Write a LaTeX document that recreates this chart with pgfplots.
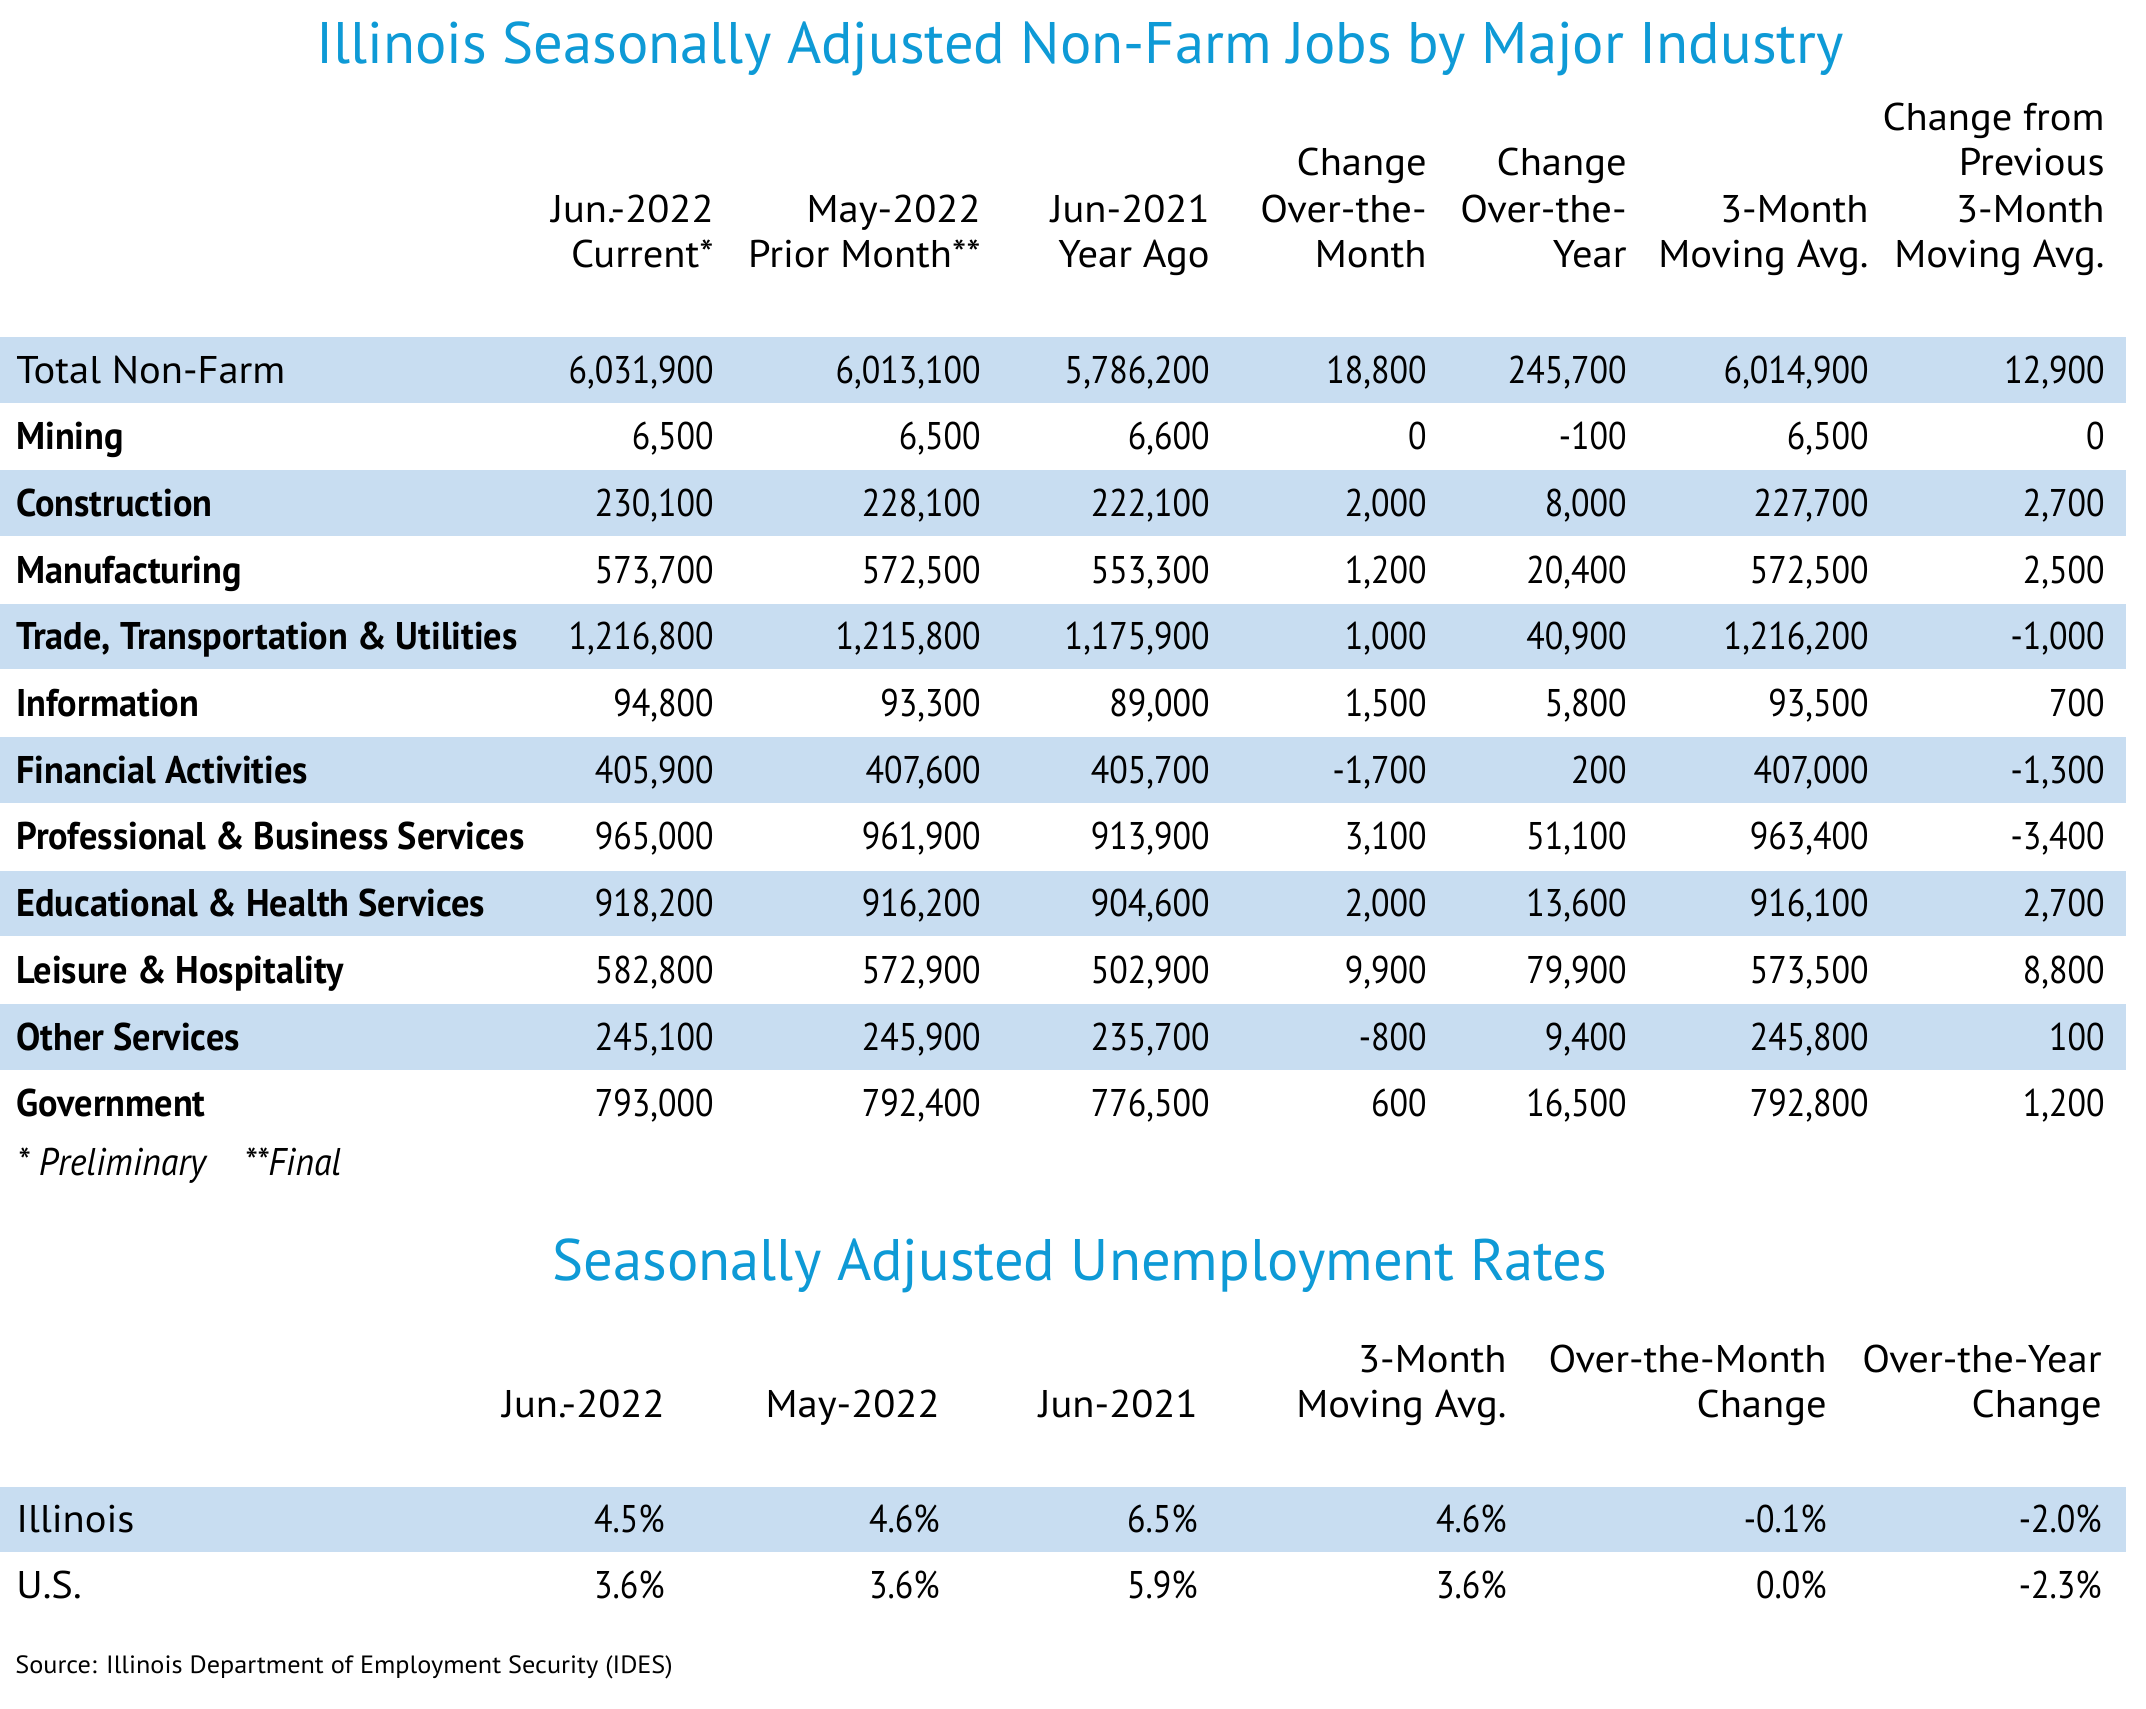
\documentclass[border=0pt]{standalone}
\usepackage{fontspec}
\setmainfont{PT Sans}[FakeStretch=1.05]
\newfontfamily\numfont{PT Sans}[FakeStretch=0.88]
\newfontfamily\labfont{PT Sans}[FakeStretch=0.94]
\newfontfamily\titlefam{PT Sans}[FakeStretch=1.0]
\newfontfamily\footfam{PT Sans}[FakeStretch=0.93]
\usepackage{pgfplots}
\usepackage{pgfplotstable}
\pgfplotsset{compat=1.18}
\definecolor{titleblue}{RGB}{14,154,214}
\definecolor{stripe}{RGB}{200,221,241}
\newcommand{\datafont}{\fontsize{19.3}{23}\selectfont}
\newcommand{\numsize}{\numfont\fontsize{19.3}{23}\selectfont}
\newcommand{\titlefont}{\titlefam\fontsize{29.3}{35}\selectfont}

\pgfplotstableread[col sep=semicolon]{
y;name;c1;c2;c3;c4;c5;c6;c7
383;Total Non-Farm;6,031,900;6,013,100;5,786,200;18,800;245,700;6,014,900;12,900
449.7;Mining;6,500;6,500;6,600;0;-100;6,500;0
516.4;Construction;230,100;228,100;222,100;2,000;8,000;227,700;2,700
583.1;Manufacturing;573,700;572,500;553,300;1,200;20,400;572,500;2,500
649.8;Trade, Transportation \& Utilities;1,216,800;1,215,800;1,175,900;1,000;40,900;1,216,200;-1,000
716.5;Information;94,800;93,300;89,000;1,500;5,800;93,500;700
783.2;Financial Activities;405,900;407,600;405,700;-1,700;200;407,000;-1,300
849.9;Professional \& Business Services;965,000;961,900;913,900;3,100;51,100;963,400;-3,400
916.6;Educational \& Health Services;918,200;916,200;904,600;2,000;13,600;916,100;2,700
983.3;Leisure \& Hospitality;582,800;572,900;502,900;9,900;79,900;573,500;8,800
1050;Other Services;245,100;245,900;235,700;-800;9,400;245,800;100
1116.7;Government;793,000;792,400;776,500;600;16,500;792,800;1,200
}\jobs

\pgfplotstableread[col sep=semicolon]{
y;name
449.7;Mining
516.4;Construction
583.1;Manufacturing
649.8;Trade, Transportation \& Utilities
716.5;Information
783.2;Financial Activities
849.9;Professional \& Business Services
916.6;Educational \& Health Services
983.3;Leisure \& Hospitality
1050;Other Services
1116.7;Government
}\boldlabels

\pgfplotstableread[col sep=semicolon]{
y;name
383;Total Non-Farm
}\totallabel

\pgfplotstableread[col sep=semicolon]{
y;name;c1;c2;c3;c4;c5;c6
1532;Illinois;4.5\%;4.6\%;6.5\%;4.6\%;-0.1\%;-2.0\%
1598;U.S.;3.6\%;3.6\%;5.9\%;3.6\%;0.0\%;-2.3\%
}\rates

\pgfplotsset{
  txtright/.style={draw=none, nodes near coords, point meta=explicit symbolic,
    every node near coord/.append style={anchor=base east, inner sep=0pt, text=black, font=\numsize}},
  txtleft/.style={draw=none, nodes near coords, point meta=explicit symbolic,
    every node near coord/.append style={anchor=base west, inner sep=0pt, text=black, font=#1}},
}

\begin{document}
\begin{tikzpicture}
\begin{axis}[
  scale only axis, width=1073pt, height=854pt,
  xmin=0, xmax=2146, ymin=0, ymax=1708, y dir=reverse,
  hide axis, clip=false,
]
\fill[white] (axis cs:0,0) rectangle (axis cs:2146,1708);
% stripes
\foreach \b in {383,516.4,649.8,783.2,916.6,1050}{
  \edef\tmp{\noexpand\fill[stripe] (axis cs:0,\b-46) rectangle (axis cs:2126,\b+19.5);}\tmp
}
\fill[stripe] (axis cs:0,1487) rectangle (axis cs:2126,1552);

% titles
\node[anchor=base, inner sep=0pt, text=titleblue, font=\titlefont] at (axis cs:1080,63) {Illinois Seasonally Adjusted Non-Farm Jobs by Major Industry};
\node[anchor=base, inner sep=0pt, text=titleblue, font=\titlefont] at (axis cs:1080,1280) {Seasonally Adjusted Unemployment Rates};

% table 1 headers
\begin{scope}[every node/.style={anchor=base east, inner sep=0pt, font=\datafont}]
\node at (axis cs:714,222) {Jun.-2022};
\node at (axis cs:714,267) {Current*};
\node at (axis cs:981,222) {May-2022};
\node at (axis cs:981,267) {Prior Month**};
\node at (axis cs:1210,222) {Jun-2021};
\node at (axis cs:1210,267) {Year Ago};
\node at (axis cs:1427,175) {Change};
\node at (axis cs:1427,222) {Over-the-};
\node at (axis cs:1427,267) {Month};
\node at (axis cs:1627,175) {Change};
\node at (axis cs:1627,222) {Over-the-};
\node at (axis cs:1627,267) {Year};
\node at (axis cs:1869,222) {3-Month};
\node at (axis cs:1869,267) {Moving Avg.};
\node at (axis cs:2105,130) {Change from};
\node at (axis cs:2105,175) {Previous};
\node at (axis cs:2105,222) {3-Month};
\node at (axis cs:2105,267) {Moving Avg.};
% table 2 headers
\node at (axis cs:665,1417) {Jun.-2022};
\node at (axis cs:940,1417) {May-2022};
\node at (axis cs:1198,1417) {Jun-2021};
\node at (axis cs:1507,1372) {3-Month};
\node at (axis cs:1507,1417) {Moving Avg.};
\node at (axis cs:1827,1372) {Over-the-Month};
\node at (axis cs:1827,1417) {Change};
\node at (axis cs:2102,1372) {Over-the-Year};
\node at (axis cs:2102,1417) {Change};
\end{scope}

% table 1 data
\addplot[txtright] table[x expr=714, y=y, meta=c1] {\jobs};
\addplot[txtright] table[x expr=981, y=y, meta=c2] {\jobs};
\addplot[txtright] table[x expr=1210, y=y, meta=c3] {\jobs};
\addplot[txtright] table[x expr=1427, y=y, meta=c4] {\jobs};
\addplot[txtright] table[x expr=1627, y=y, meta=c5] {\jobs};
\addplot[txtright] table[x expr=1869, y=y, meta=c6] {\jobs};
\addplot[txtright] table[x expr=2105, y=y, meta=c7] {\jobs};
\addplot[txtleft={\labfont\bfseries\fontsize{19.3}{23}\selectfont}] table[x expr=16, y=y, meta=name] {\boldlabels};
\addplot[txtleft={\datafont}] table[x expr=16, y=y, meta=name] {\totallabel};

% table 2 data
\addplot[txtright] table[x expr=665, y=y, meta=c1] {\rates};
\addplot[txtright] table[x expr=940, y=y, meta=c2] {\rates};
\addplot[txtright] table[x expr=1198, y=y, meta=c3] {\rates};
\addplot[txtright] table[x expr=1507, y=y, meta=c4] {\rates};
\addplot[txtright] table[x expr=1827, y=y, meta=c5] {\rates};
\addplot[txtright] table[x expr=2102, y=y, meta=c6] {\rates};
\addplot[txtleft={\datafont}] table[x expr=16, y=y, meta=name] {\rates};

% footnotes
\node[anchor=base west, inner sep=0pt, font=\footfam\itshape\fontsize{19.3}{23}\selectfont] at (axis cs:17,1175) {* Preliminary};
\node[anchor=base west, inner sep=0pt, font=\footfam\itshape\fontsize{19.3}{23}\selectfont] at (axis cs:244,1175) {**Final};
\node[anchor=base west, inner sep=0pt, font=\fontsize{12.5}{15}\selectfont] at (axis cs:15,1673) {Source: Illinois Department of Employment Security (IDES)};
\end{axis}
\end{tikzpicture}
\end{document}
